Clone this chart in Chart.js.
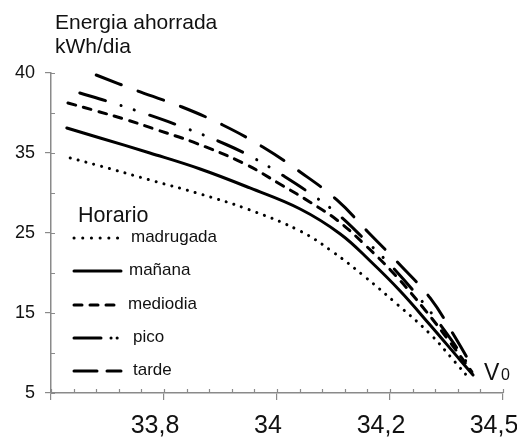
<!DOCTYPE html>
<html>
<head>
<meta charset="utf-8">
<script src="https://cdn.jsdelivr.net/npm/chart.js@4.4.1/dist/chart.umd.min.js"></script>
<style>
  html, body { margin: 0; background: #fff; }
  #wrap { width: 517px; height: 441px; position: relative; }
</style>
</head>
<body>
<div id="wrap"><canvas id="chart"></canvas></div>
<script>
/* ===== data (x and y) ===== */
var seriesNames = ['madrugada', 'mañana', 'mediodia', 'pico', 'tarde'];

var xMadrugada = [33.634, 33.687, 33.775, 33.864, 33.952, 34.041, 34.099, 34.156, 34.212, 34.271, 34.315, 34.338];
var yMadrugada = [34.38, 33.38, 31.63, 29.88, 27.88, 25.25, 22.63, 19.5, 16.13, 12.38, 8.88, 7.0];

var xManana = [33.628, 33.687, 33.775, 33.864, 33.952, 34.041, 34.112, 34.165, 34.218, 34.271, 34.324, 34.347];
var yManana = [38.13, 36.88, 35.0, 33.0, 30.63, 28.0, 24.88, 21.5, 17.75, 13.5, 9.13, 7.25];

var xMediodia = [33.63, 33.674, 33.735, 33.788, 33.851, 33.94, 34.011, 34.058, 34.106, 34.156, 34.209, 34.262, 34.306, 34.345];
var yMediodia = [41.25, 40.38, 39.13, 37.88, 36.38, 33.75, 30.88, 28.88, 26.63, 23.5, 19.75, 15.38, 11.38, 7.63];

var xPico = [33.651, 33.704, 33.758, 33.828, 33.912, 33.965, 34.009, 34.055, 34.103, 34.156, 34.209, 34.262, 34.306, 34.345];
var yPico = [42.5, 41.38, 40.13, 38.38, 36.0, 34.13, 32.25, 30.13, 27.63, 24.13, 20.38, 16.0, 11.88, 7.88];

var xTarde = [33.68, 33.758, 33.832, 33.904, 33.975, 34.041, 34.106, 34.161, 34.218, 34.271, 34.315, 34.349];
var yTarde = [44.75, 42.63, 40.75, 38.5, 35.75, 32.63, 29.13, 25.13, 21.0, 16.88, 12.0, 7.88];

// axis ticks (positions on the drawn axis + the text shown there)
var xTickValues = [33.8, 34.0, 34.2, 34.4];
var xTickLabels = ['33,8', '34', '34,2', '34,5'];
var yTickValues = [5, 15, 25, 35, 45];
var yTickLabels = ['5', '15', '25', '35', '40'];

/* ===== helpers ===== */
function toPoints(xs, ys) {
    var out = [];
    for (var i = 0; i < xs.length; i++) out.push({ x: xs[i], y: ys[i] });
    return out;
}
function lookup(v, values, labels) {
    for (var i = 0; i < values.length; i++) {
        if (Math.abs(v - values[i]) < 1e-6) return labels[i];
    }
    return '';
}

var INK = '#111';
var AXIS = '#8a8a8a';
var FONT = "'Liberation Sans', Arial, sans-serif";

function lineSet(name, pts, dash, legendDash) {
    return {
        label: name,
        data: pts,
        borderColor: '#000',
        borderWidth: 3,
        borderDash: dash,
        legendDash: legendDash,
        borderCapStyle: 'round',
        pointRadius: 0,
        fill: false,
        tension: 0.4
    };
}

// minor ticks, title, V0 and the "Horario" legend
var decor = {
    id: 'decor',
    afterDraw: function(chart) {
        var ctx = chart.ctx, sx = chart.scales.x, sy = chart.scales.y, a = chart.chartArea;
        ctx.save();
        ctx.strokeStyle = AXIS;
        ctx.lineWidth = 1.2;
        ctx.beginPath();
        for (var v = 33.6; v <= 34.4 + 1e-9; v += 0.04) {
            var px = Math.round(sx.getPixelForValue(v)) + 0.5;
            ctx.moveTo(px, a.bottom);
            ctx.lineTo(px, a.bottom - 4);
        }
        for (var w = 5; w <= 45 + 1e-9; w += 5) {
            var py = Math.round(sy.getPixelForValue(w)) + 0.5;
            ctx.moveTo(a.left, py);
            ctx.lineTo(a.left + 4, py);
        }
        ctx.stroke();

        ctx.fillStyle = INK;
        ctx.textBaseline = 'alphabetic';
        ctx.textAlign = 'left';
        ctx.font = '21px ' + FONT;
        ctx.fillText('Energia ahorrada', 55, 29);
        ctx.fillText('kWh/dia', 55, 53);

        ctx.font = '23px ' + FONT;
        ctx.fillText('V', 484, 380);
        ctx.font = '16px ' + FONT;
        ctx.fillText('0', 501, 380);

        ctx.font = '21.5px ' + FONT;
        ctx.fillText('Horario', 78, 222);

        var rows = [238, 271, 305, 338, 371];
        var textX = [131, 129, 128, 133, 133];
        ctx.font = '17px ' + FONT;
        chart.data.datasets.forEach(function(ds, i) {
            ctx.save();
            ctx.strokeStyle = ds.borderColor;
            ctx.lineWidth = ds.borderWidth;
            ctx.lineCap = ds.borderCapStyle;
            ctx.setLineDash(ds.legendDash || ds.borderDash);
            ctx.beginPath();
            ctx.moveTo(74, rows[i]);
            ctx.lineTo(121, rows[i]);
            ctx.stroke();
            ctx.restore();
            ctx.textBaseline = 'middle';
            ctx.fillText(ds.label, textX[i], rows[i] - 1);
        });
        ctx.restore();
    }
};

var ctx = document.getElementById('chart');
var chart = new Chart(ctx, {
    type: 'line',
    data: {
        datasets: [
            lineSet(seriesNames[0], toPoints(xMadrugada, yMadrugada), [0.1, 8], [0.1, 8.6]),
            lineSet(seriesNames[1], toPoints(xManana, yManana), []),
            lineSet(seriesNames[2], toPoints(xMediodia, yMediodia), [8, 8]),
            lineSet(seriesNames[3], toPoints(xPico, yPico), [27, 16, 0.1, 14, 0.1, 16], [27, 10, 0.1, 6, 0.1, 30]),
            lineSet(seriesNames[4], toPoints(xTarde, yTarde), [27, 18], [23, 10, 30])
        ]
    },
    options: {
        responsive: true,
        maintainAspectRatio: false,
        animation: false,
        layout: { autoPadding: false, padding: { top: 73, left: 0, right: 14, bottom: 0 } },
        plugins: { legend: { display: false }, tooltip: { enabled: false } },
        scales: {
            x: {
                type: 'linear',
                min: 33.6,
                max: 34.4,
                border: { color: AXIS, width: 1.5 },
                grid: { drawOnChartArea: false, color: AXIS, tickLength: 7, lineWidth: 1.2 },
                ticks: {
                    stepSize: 0.2,
                    autoSkip: false,
                    maxRotation: 0,
                    labelOffset: -9,
                    padding: 11,
                    color: INK,
                    font: { family: FONT, size: 25 },
                    callback: function(v) { return lookup(v, xTickValues, xTickLabels); }
                },
                afterFit: function(scale) {
                    scale.height = 48;
                    scale.paddingLeft = 0;
                    scale.paddingRight = 0;
                }
            },
            y: {
                type: 'linear',
                min: 5,
                max: 45,
                border: { color: AXIS, width: 1.5 },
                grid: { drawOnChartArea: false, color: AXIS, tickLength: 6, lineWidth: 1.2 },
                ticks: {
                    stepSize: 10,
                    padding: 10,
                    color: INK,
                    font: { family: FONT, size: 18 },
                    callback: function(v) { return lookup(v, yTickValues, yTickLabels); }
                },
                afterFit: function(scale) {
                    scale.width = 51;
                    scale.paddingTop = 0;
                    scale.paddingBottom = 0;
                }
            }
        }
    },
    plugins: [decor]
});
</script>
</body>
</html>
